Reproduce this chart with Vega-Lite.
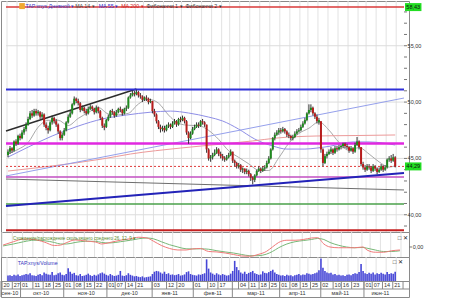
{
"$schema": "https://vega.github.io/schema/vega-lite/v6.json",
"padding": {"left": 0, "top": 0, "right": 0, "bottom": 0},
"background": "white",
"spacing": 0,
"bounds": "flush",
"config": {"font": "Liberation Sans", "view": {"stroke": "#8a8a8a", "strokeWidth": 1}, "axis": {"grid": false, "title": null}},
"datasets": {
"candles": [
{"i":0,"o":45.3,"h":45.8,"l":45.1,"c":45.6,"v":1.4},{"i":1,"o":45.6,"h":46.1,"l":45.4,"c":45.9,"v":1.5},{"i":2,"o":45.9,"h":46.0,"l":45.5,"c":45.7,"v":1.3},{"i":3,"o":45.7,"h":46.6,"l":45.6,"c":46.5,"v":1.6},{"i":4,"o":46.5,"h":46.7,"l":46.1,"c":46.3,"v":1.4},
{"i":5,"o":46.3,"h":47.1,"l":46.2,"c":47.0,"v":1.7},{"i":6,"o":47.0,"h":47.2,"l":46.6,"c":46.8,"v":1.3},{"i":7,"o":46.8,"h":47.5,"l":46.7,"c":47.3,"v":1.5},{"i":8,"o":47.3,"h":47.8,"l":47.1,"c":47.6,"v":1.6},{"i":9,"o":47.6,"h":48.2,"l":47.4,"c":48.0,"v":1.8},
{"i":10,"o":48.0,"h":48.7,"l":47.9,"c":48.5,"v":1.7},{"i":11,"o":48.5,"h":49.2,"l":48.4,"c":49.0,"v":2.0},{"i":12,"o":49.0,"h":49.3,"l":48.6,"c":48.8,"v":1.5},{"i":13,"o":48.8,"h":49.4,"l":48.7,"c":49.2,"v":1.4},{"i":14,"o":49.2,"h":49.4,"l":48.8,"c":49.0,"v":1.3},
{"i":15,"o":49.0,"h":49.3,"l":48.8,"c":49.15,"v":1.6},{"i":16,"o":49.1,"h":49.2,"l":48.5,"c":48.7,"v":1.8},{"i":17,"o":48.7,"h":49.1,"l":48.5,"c":48.9,"v":1.5},{"i":18,"o":48.9,"h":49.0,"l":47.8,"c":48.0,"v":2.2},{"i":19,"o":48.0,"h":48.2,"l":47.5,"c":47.7,"v":1.9},
{"i":20,"o":47.7,"h":47.9,"l":47.2,"c":47.5,"v":1.7},{"i":21,"o":47.5,"h":48.3,"l":47.4,"c":48.2,"v":1.6},{"i":22,"o":48.2,"h":48.8,"l":48.0,"c":48.6,"v":2.3},{"i":23,"o":48.6,"h":48.7,"l":48.1,"c":48.3,"v":1.5},{"i":24,"o":48.3,"h":48.5,"l":47.8,"c":48.0,"v":1.6},
{"i":25,"o":48.0,"h":48.1,"l":47.2,"c":47.4,"v":2.0},{"i":26,"o":47.4,"h":47.5,"l":46.6,"c":46.8,"v":2.2},{"i":27,"o":46.8,"h":47.3,"l":46.6,"c":47.1,"v":1.6},{"i":28,"o":47.1,"h":47.7,"l":47.0,"c":47.5,"v":1.5},{"i":29,"o":47.5,"h":48.3,"l":47.4,"c":48.2,"v":1.8},
{"i":30,"o":48.2,"h":48.9,"l":48.1,"c":48.7,"v":3.3},{"i":31,"o":48.7,"h":49.3,"l":48.6,"c":49.0,"v":2.4},{"i":32,"o":49.0,"h":49.9,"l":48.9,"c":49.8,"v":1.9},{"i":33,"o":49.8,"h":50.5,"l":49.7,"c":50.3,"v":2.1},{"i":34,"o":50.3,"h":50.4,"l":49.9,"c":50.1,"v":1.5},
{"i":35,"o":50.1,"h":50.3,"l":49.7,"c":49.9,"v":1.4},{"i":36,"o":49.9,"h":50.0,"l":49.1,"c":49.3,"v":1.8},{"i":37,"o":49.3,"h":49.7,"l":49.2,"c":49.5,"v":1.3},{"i":38,"o":49.5,"h":49.6,"l":49.0,"c":49.2,"v":1.4},{"i":39,"o":49.2,"h":49.4,"l":48.8,"c":49.0,"v":1.6},
{"i":40,"o":49.0,"h":49.6,"l":48.9,"c":49.4,"v":1.9},{"i":41,"o":49.4,"h":49.8,"l":49.3,"c":49.6,"v":1.5},{"i":42,"o":49.6,"h":49.7,"l":49.2,"c":49.4,"v":1.3},{"i":43,"o":49.4,"h":49.5,"l":48.9,"c":49.1,"v":1.6},{"i":44,"o":49.1,"h":49.7,"l":49.0,"c":49.5,"v":1.4},
{"i":45,"o":49.5,"h":49.6,"l":49.0,"c":49.2,"v":1.7},{"i":46,"o":49.2,"h":49.3,"l":48.4,"c":48.6,"v":2.0},{"i":47,"o":48.6,"h":48.7,"l":47.7,"c":47.9,"v":2.2},{"i":48,"o":47.9,"h":48.1,"l":47.5,"c":47.75,"v":1.9},{"i":49,"o":47.8,"h":48.5,"l":47.7,"c":48.4,"v":1.6},
{"i":50,"o":48.4,"h":48.9,"l":48.3,"c":48.7,"v":1.4},{"i":51,"o":48.7,"h":49.3,"l":48.6,"c":49.2,"v":1.8},{"i":52,"o":49.2,"h":49.4,"l":48.9,"c":49.1,"v":1.5},{"i":53,"o":49.1,"h":49.2,"l":48.6,"c":48.8,"v":1.3},{"i":54,"o":48.8,"h":49.3,"l":48.7,"c":49.1,"v":1.4},
{"i":55,"o":49.1,"h":49.5,"l":49.0,"c":49.4,"v":1.6},{"i":56,"o":49.4,"h":49.6,"l":49.1,"c":49.3,"v":2.6},{"i":57,"o":49.3,"h":49.4,"l":48.8,"c":49.0,"v":1.4},{"i":58,"o":49.0,"h":49.5,"l":48.9,"c":49.4,"v":1.3},{"i":59,"o":49.4,"h":49.7,"l":49.2,"c":49.5,"v":1.5},
{"i":60,"o":49.5,"h":50.5,"l":49.4,"c":50.4,"v":2.0},{"i":61,"o":50.4,"h":50.8,"l":50.3,"c":50.6,"v":1.6},{"i":62,"o":50.6,"h":51.0,"l":50.5,"c":50.8,"v":1.4},{"i":63,"o":50.8,"h":51.0,"l":50.5,"c":50.7,"v":1.2},{"i":64,"o":50.7,"h":51.1,"l":50.6,"c":50.9,"v":1.3},
{"i":65,"o":50.9,"h":51.0,"l":50.4,"c":50.6,"v":1.1},{"i":66,"o":50.6,"h":50.8,"l":50.3,"c":50.5,"v":1.0},{"i":67,"o":50.5,"h":50.6,"l":50.0,"c":50.2,"v":1.2},{"i":68,"o":50.2,"h":50.5,"l":50.1,"c":50.4,"v":0.9},{"i":69,"o":50.4,"h":50.6,"l":50.1,"c":50.3,"v":1.0},
{"i":70,"o":50.3,"h":50.4,"l":49.8,"c":50.0,"v":1.1},{"i":71,"o":50.0,"h":50.3,"l":49.9,"c":50.1,"v":1.2},{"i":72,"o":50.1,"h":50.1,"l":49.0,"c":49.2,"v":1.8},{"i":73,"o":49.2,"h":49.4,"l":48.7,"c":48.9,"v":2.4},{"i":74,"o":48.9,"h":49.0,"l":48.1,"c":48.3,"v":2.6},
{"i":75,"o":48.3,"h":48.4,"l":47.6,"c":47.8,"v":2.5},{"i":76,"o":47.8,"h":48.0,"l":47.3,"c":47.6,"v":2.2},{"i":77,"o":47.6,"h":47.9,"l":47.4,"c":47.7,"v":1.9},{"i":78,"o":47.7,"h":47.9,"l":47.3,"c":47.5,"v":2.4},{"i":79,"o":47.5,"h":48.0,"l":47.4,"c":47.9,"v":1.8},
{"i":80,"o":47.9,"h":48.2,"l":47.7,"c":48.0,"v":2.0},{"i":81,"o":48.0,"h":48.1,"l":47.6,"c":47.8,"v":1.6},{"i":82,"o":47.8,"h":48.3,"l":47.7,"c":48.1,"v":1.7},{"i":83,"o":48.1,"h":48.5,"l":48.0,"c":48.3,"v":1.5},{"i":84,"o":48.3,"h":48.4,"l":47.8,"c":48.0,"v":1.6},
{"i":85,"o":48.0,"h":48.6,"l":47.9,"c":48.5,"v":1.8},{"i":86,"o":48.5,"h":48.7,"l":48.2,"c":48.4,"v":1.4},{"i":87,"o":48.4,"h":48.8,"l":48.3,"c":48.6,"v":1.5},{"i":88,"o":48.6,"h":48.7,"l":48.1,"c":48.3,"v":1.7},{"i":89,"o":48.3,"h":48.4,"l":47.1,"c":47.3,"v":2.3},
{"i":90,"o":47.3,"h":47.4,"l":46.3,"c":46.8,"v":2.5},{"i":91,"o":46.8,"h":47.4,"l":46.7,"c":47.2,"v":1.8},{"i":92,"o":47.2,"h":47.8,"l":47.1,"c":47.6,"v":1.6},{"i":93,"o":47.6,"h":48.0,"l":47.5,"c":47.8,"v":1.5},{"i":94,"o":47.8,"h":48.2,"l":47.7,"c":48.0,"v":1.4},
{"i":95,"o":48.0,"h":48.2,"l":47.7,"c":47.9,"v":1.7},{"i":96,"o":47.9,"h":48.4,"l":47.8,"c":48.3,"v":1.6},{"i":97,"o":48.3,"h":48.5,"l":48.0,"c":48.2,"v":1.8},{"i":98,"o":48.2,"h":48.3,"l":47.8,"c":48.0,"v":2.0},{"i":99,"o":48.0,"h":48.0,"l":45.5,"c":45.8,"v":5.6},
{"i":100,"o":45.8,"h":45.9,"l":44.8,"c":45.0,"v":3.2},{"i":101,"o":45.0,"h":45.3,"l":44.7,"c":45.1,"v":2.2},{"i":102,"o":45.1,"h":45.5,"l":44.9,"c":45.3,"v":1.9},{"i":103,"o":45.3,"h":45.8,"l":45.2,"c":45.5,"v":1.6},{"i":104,"o":45.5,"h":46.0,"l":45.4,"c":45.8,"v":2.0},
{"i":105,"o":45.8,"h":45.9,"l":45.2,"c":45.4,"v":1.7},{"i":106,"o":45.4,"h":45.6,"l":45.0,"c":45.2,"v":1.5},{"i":107,"o":45.2,"h":45.4,"l":44.8,"c":45.0,"v":1.8},{"i":108,"o":45.0,"h":45.2,"l":44.7,"c":44.9,"v":1.6},{"i":109,"o":44.9,"h":45.3,"l":44.8,"c":45.1,"v":1.4},
{"i":110,"o":45.1,"h":45.5,"l":45.0,"c":45.3,"v":1.5},{"i":111,"o":45.3,"h":45.8,"l":45.2,"c":45.6,"v":1.9},{"i":112,"o":45.6,"h":45.6,"l":44.6,"c":44.8,"v":2.6},{"i":113,"o":44.8,"h":44.9,"l":44.3,"c":44.6,"v":5.2},{"i":114,"o":44.6,"h":44.7,"l":44.1,"c":44.3,"v":3.6},
{"i":115,"o":44.3,"h":44.6,"l":44.1,"c":44.4,"v":2.8},{"i":116,"o":44.4,"h":44.5,"l":43.8,"c":44.0,"v":2.2},{"i":117,"o":44.0,"h":44.2,"l":43.7,"c":44.1,"v":1.9},{"i":118,"o":44.1,"h":44.1,"l":43.6,"c":43.8,"v":2.4},{"i":119,"o":43.8,"h":44.1,"l":43.6,"c":43.9,"v":1.8},
{"i":120,"o":43.9,"h":44.0,"l":43.4,"c":43.6,"v":2.1},{"i":121,"o":43.6,"h":43.7,"l":43.0,"c":43.3,"v":2.3},{"i":122,"o":43.3,"h":43.4,"l":42.7,"c":43.1,"v":2.6},{"i":123,"o":43.1,"h":43.6,"l":42.9,"c":43.5,"v":2.0},{"i":124,"o":43.5,"h":44.0,"l":43.4,"c":43.9,"v":1.8},
{"i":125,"o":43.9,"h":44.3,"l":43.8,"c":44.1,"v":1.6},{"i":126,"o":44.1,"h":44.2,"l":43.7,"c":43.9,"v":1.7},{"i":127,"o":43.9,"h":44.3,"l":43.8,"c":44.1,"v":2.5},{"i":128,"o":44.1,"h":44.4,"l":43.9,"c":44.2,"v":2.1},{"i":129,"o":44.2,"h":44.8,"l":44.1,"c":44.6,"v":2.0},
{"i":130,"o":44.6,"h":45.2,"l":44.5,"c":45.0,"v":2.3},{"i":131,"o":45.0,"h":45.9,"l":44.9,"c":45.8,"v":2.6},{"i":132,"o":45.8,"h":46.9,"l":45.7,"c":46.8,"v":2.9},{"i":133,"o":46.8,"h":47.3,"l":46.6,"c":47.1,"v":2.2},{"i":134,"o":47.1,"h":47.5,"l":47.0,"c":47.3,"v":1.8},
{"i":135,"o":47.3,"h":47.7,"l":47.1,"c":47.5,"v":1.6},{"i":136,"o":47.5,"h":47.7,"l":47.2,"c":47.4,"v":1.4},{"i":137,"o":47.4,"h":47.8,"l":47.3,"c":47.6,"v":1.5},{"i":138,"o":47.6,"h":47.7,"l":47.2,"c":47.4,"v":1.3},{"i":139,"o":47.4,"h":47.5,"l":46.9,"c":47.1,"v":1.6},
{"i":140,"o":47.1,"h":47.3,"l":46.8,"c":47.0,"v":1.4},{"i":141,"o":47.0,"h":47.1,"l":46.6,"c":46.8,"v":1.5},{"i":142,"o":46.8,"h":47.1,"l":46.6,"c":46.9,"v":1.2},{"i":143,"o":46.9,"h":47.4,"l":46.8,"c":47.2,"v":1.5},{"i":144,"o":47.2,"h":47.6,"l":47.1,"c":47.4,"v":1.6},
{"i":145,"o":47.4,"h":47.7,"l":47.3,"c":47.5,"v":1.8},{"i":146,"o":47.5,"h":48.0,"l":47.4,"c":47.8,"v":1.5},{"i":147,"o":47.8,"h":48.3,"l":47.7,"c":48.1,"v":1.7},{"i":148,"o":48.1,"h":48.6,"l":48.0,"c":48.4,"v":1.6},{"i":149,"o":48.4,"h":49.1,"l":48.3,"c":49.0,"v":2.0},
{"i":150,"o":49.0,"h":49.8,"l":48.9,"c":49.3,"v":1.9},{"i":151,"o":49.3,"h":49.8,"l":49.1,"c":49.5,"v":1.7},{"i":152,"o":49.5,"h":49.6,"l":48.8,"c":49.0,"v":1.8},{"i":153,"o":49.0,"h":49.1,"l":48.5,"c":48.7,"v":2.0},{"i":154,"o":48.7,"h":48.9,"l":48.1,"c":48.3,"v":2.2},
{"i":155,"o":48.2,"h":48.6,"l":48.0,"c":48.4,"v":2.8},{"i":156,"o":48.3,"h":48.3,"l":45.5,"c":45.8,"v":5.8},{"i":157,"o":45.8,"h":45.9,"l":44.3,"c":44.6,"v":3.4},{"i":158,"o":44.6,"h":45.4,"l":44.5,"c":45.2,"v":2.6},{"i":159,"o":45.2,"h":45.6,"l":45.0,"c":45.4,"v":2.2},
{"i":160,"o":45.4,"h":45.8,"l":45.3,"c":45.6,"v":2.0},{"i":161,"o":45.6,"h":46.0,"l":45.4,"c":45.8,"v":2.1},{"i":162,"o":45.8,"h":45.9,"l":45.3,"c":45.5,"v":1.7},{"i":163,"o":45.5,"h":46.1,"l":45.4,"c":45.9,"v":1.8},{"i":164,"o":45.9,"h":46.1,"l":45.6,"c":45.8,"v":1.5},
{"i":165,"o":45.8,"h":46.2,"l":45.7,"c":46.0,"v":1.6},{"i":166,"o":46.0,"h":46.2,"l":45.8,"c":46.1,"v":1.4},{"i":167,"o":46.1,"h":46.4,"l":45.9,"c":46.3,"v":1.5},{"i":168,"o":46.3,"h":46.4,"l":45.9,"c":46.1,"v":1.3},{"i":169,"o":46.1,"h":46.3,"l":45.8,"c":46.0,"v":1.6},
{"i":170,"o":46.0,"h":46.1,"l":45.5,"c":45.7,"v":1.7},{"i":171,"o":45.7,"h":46.1,"l":45.6,"c":45.9,"v":1.5},{"i":172,"o":45.9,"h":46.0,"l":45.4,"c":45.6,"v":1.8},{"i":173,"o":45.6,"h":46.4,"l":45.5,"c":46.2,"v":2.0},{"i":174,"o":46.2,"h":46.9,"l":46.1,"c":46.5,"v":1.9},
{"i":175,"o":46.5,"h":46.6,"l":45.8,"c":46.0,"v":2.3},{"i":176,"o":46.0,"h":46.0,"l":44.3,"c":44.5,"v":4.4},{"i":177,"o":44.5,"h":44.7,"l":44.0,"c":44.2,"v":2.6},{"i":178,"o":44.2,"h":44.4,"l":43.8,"c":44.0,"v":2.0},{"i":179,"o":44.0,"h":44.5,"l":43.9,"c":44.3,"v":1.8},
{"i":180,"o":44.3,"h":44.5,"l":44.0,"c":44.2,"v":2.1},{"i":181,"o":44.2,"h":44.3,"l":43.7,"c":43.9,"v":1.9},{"i":182,"o":43.9,"h":44.5,"l":43.8,"c":44.3,"v":2.2},{"i":183,"o":44.3,"h":44.4,"l":43.9,"c":44.1,"v":1.7},{"i":184,"o":44.1,"h":44.2,"l":43.6,"c":43.8,"v":2.0},
{"i":185,"o":43.8,"h":44.2,"l":43.7,"c":44.0,"v":1.8},{"i":186,"o":44.0,"h":44.5,"l":43.9,"c":44.3,"v":2.1},{"i":187,"o":44.3,"h":44.4,"l":43.8,"c":44.0,"v":1.9},{"i":188,"o":44.0,"h":44.4,"l":43.9,"c":44.2,"v":1.7},{"i":189,"o":44.2,"h":45.0,"l":44.1,"c":44.9,"v":2.3},
{"i":190,"o":44.9,"h":45.2,"l":44.7,"c":45.0,"v":1.8},{"i":191,"o":45.0,"h":45.3,"l":44.6,"c":44.8,"v":2.0},{"i":192,"o":44.8,"h":45.4,"l":44.7,"c":45.1,"v":1.9},{"i":193,"o":45.1,"h":45.2,"l":44.2,"c":44.29,"v":2.4}
],
"lines": [
{"s":"grid","g":"g40","i":-1,"p":40},{"s":"grid","g":"g40","i":197.4,"p":40},{"s":"grid","g":"g45","i":-1,"p":45},{"s":"grid","g":"g45","i":197.4,"p":45},{"s":"grid","g":"g50","i":-1,"p":50},{"s":"grid","g":"g50","i":197.4,"p":50},{"s":"grid","g":"g55","i":-1,"p":55},{"s":"grid","g":"g55","i":197.4,"p":55},
{"s":"ma14","g":"ma14","i":0,"p":45.4},{"s":"ma14","g":"ma14","i":5,"p":45.8},{"s":"ma14","g":"ma14","i":10,"p":46.4},{"s":"ma14","g":"ma14","i":15,"p":47.77},{"s":"ma14","g":"ma14","i":20,"p":48.38},{"s":"ma14","g":"ma14","i":25,"p":48.39},{"s":"ma14","g":"ma14","i":30,"p":47.92},{"s":"ma14","g":"ma14","i":35,"p":48.55},{"s":"ma14","g":"ma14","i":40,"p":49.07},{"s":"ma14","g":"ma14","i":45,"p":49.52},{"s":"ma14","g":"ma14","i":50,"p":48.95},{"s":"ma14","g":"ma14","i":55,"p":48.87},{"s":"ma14","g":"ma14","i":60,"p":49.0},{"s":"ma14","g":"ma14","i":65,"p":49.83},{"s":"ma14","g":"ma14","i":70,"p":50.24},{"s":"ma14","g":"ma14","i":75,"p":49.91},{"s":"ma14","g":"ma14","i":80,"p":48.85},{"s":"ma14","g":"ma14","i":85,"p":48.11},{"s":"ma14","g":"ma14","i":90,"p":47.94},{"s":"ma14","g":"ma14","i":95,"p":47.91},{"s":"ma14","g":"ma14","i":100,"p":47.49},{"s":"ma14","g":"ma14","i":105,"p":46.69},{"s":"ma14","g":"ma14","i":110,"p":45.68},{"s":"ma14","g":"ma14","i":115,"p":45.09},{"s":"ma14","g":"ma14","i":120,"p":44.52},{"s":"ma14","g":"ma14","i":125,"p":43.95},{"s":"ma14","g":"ma14","i":130,"p":43.93},{"s":"ma14","g":"ma14","i":135,"p":45.06},{"s":"ma14","g":"ma14","i":140,"p":46.35},{"s":"ma14","g":"ma14","i":145,"p":47.21},{"s":"ma14","g":"ma14","i":150,"p":47.68},{"s":"ma14","g":"ma14","i":155,"p":48.24},{"s":"ma14","g":"ma14","i":160,"p":47.51},{"s":"ma14","g":"ma14","i":165,"p":46.42},{"s":"ma14","g":"ma14","i":170,"p":45.71},{"s":"ma14","g":"ma14","i":175,"p":45.96},{"s":"ma14","g":"ma14","i":180,"p":45.39},{"s":"ma14","g":"ma14","i":185,"p":44.69},{"s":"ma14","g":"ma14","i":190,"p":44.23},{"s":"ma14","g":"ma14","i":193,"p":44.35},
{"s":"ma55","g":"ma55","i":0,"p":45.12},{"s":"ma55","g":"ma55","i":10,"p":46.0},{"s":"ma55","g":"ma55","i":22,"p":46.99},{"s":"ma55","g":"ma55","i":35,"p":47.87},{"s":"ma55","g":"ma55","i":47,"p":48.5},{"s":"ma55","g":"ma55","i":59,"p":48.85},{"s":"ma55","g":"ma55","i":71,"p":49.1},{"s":"ma55","g":"ma55","i":81,"p":49.2},{"s":"ma55","g":"ma55","i":90,"p":49.03},{"s":"ma55","g":"ma55","i":100,"p":48.67},{"s":"ma55","g":"ma55","i":107,"p":48.32},{"s":"ma55","g":"ma55","i":115,"p":47.6},{"s":"ma55","g":"ma55","i":123,"p":46.72},{"s":"ma55","g":"ma55","i":132,"p":46.1},{"s":"ma55","g":"ma55","i":139,"p":45.83},{"s":"ma55","g":"ma55","i":148,"p":45.83},{"s":"ma55","g":"ma55","i":154,"p":45.92},{"s":"ma55","g":"ma55","i":161,"p":46.1},{"s":"ma55","g":"ma55","i":172,"p":46.46},{"s":"ma55","g":"ma55","i":180,"p":46.46},{"s":"ma55","g":"ma55","i":193,"p":46.19},
{"s":"ma200","g":"ma200","i":0,"p":43.88},{"s":"ma200","g":"ma200","i":22,"p":44.33},{"s":"ma200","g":"ma200","i":47,"p":44.95},{"s":"ma200","g":"ma200","i":61,"p":45.39},{"s":"ma200","g":"ma200","i":86,"p":45.92},{"s":"ma200","g":"ma200","i":107,"p":46.28},{"s":"ma200","g":"ma200","i":122,"p":46.55},{"s":"ma200","g":"ma200","i":134,"p":46.81},{"s":"ma200","g":"ma200","i":154,"p":46.99},{"s":"ma200","g":"ma200","i":173,"p":47.03},{"s":"ma200","g":"ma200","i":193,"p":47.08},
{"s":"h_top","g":"h_top","i":-1,"p":58.43},{"s":"h_top","g":"h_top","i":197.4,"p":58.43},
{"s":"h_blue","g":"h_blue","i":-1,"p":51.11},{"s":"h_blue","g":"h_blue","i":197.4,"p":51.11},
{"s":"h_mag","g":"h_mag","i":-1,"p":46.32},{"s":"h_mag","g":"h_mag","i":197.4,"p":46.32},
{"s":"h_cur","g":"h_cur","i":-1,"p":44.29},{"s":"h_cur","g":"h_cur","i":197.4,"p":44.29},
{"s":"h_mag2","g":"h_mag2","i":-1,"p":43.35},{"s":"h_mag2","g":"h_mag2","i":197.4,"p":43.35},
{"s":"h_green","g":"h_green","i":-1,"p":40.95},{"s":"h_green","g":"h_green","i":197.4,"p":40.95},
{"s":"h_bot","g":"h_bot","i":-1,"p":38.62},{"s":"h_bot","g":"h_bot","i":197.4,"p":38.62},
{"s":"t_black","g":"t_black","i":-1,"p":47.43},{"s":"t_black","g":"t_black","i":64,"p":51.16},
{"s":"t_lblue","g":"t_lblue","i":-1,"p":43.44},{"s":"t_lblue","g":"t_lblue","i":197.4,"p":50.36},
{"s":"t_blue","g":"t_blue","i":-1,"p":40.78},{"s":"t_blue","g":"t_blue","i":197.4,"p":43.7},
{"s":"t_grey","g":"t_grey","i":-1,"p":43.17},{"s":"t_grey","g":"t_grey","i":197.4,"p":42.2}
],
"ptick": [{"i":197.4,"i2":198.9,"p":39},{"i":197.4,"i2":198.9,"p":40},{"i":197.4,"i2":198.9,"p":41},{"i":197.4,"i2":198.9,"p":42},{"i":197.4,"i2":198.9,"p":43},{"i":197.4,"i2":198.9,"p":44},{"i":197.4,"i2":198.9,"p":45},{"i":197.4,"i2":198.9,"p":46},{"i":197.4,"i2":198.9,"p":47},{"i":197.4,"i2":198.9,"p":48},{"i":197.4,"i2":198.9,"p":49},{"i":197.4,"i2":198.9,"p":50},{"i":197.4,"i2":198.9,"p":51},{"i":197.4,"i2":198.9,"p":52},{"i":197.4,"i2":198.9,"p":53},{"i":197.4,"i2":198.9,"p":54},{"i":197.4,"i2":198.9,"p":55},{"i":197.4,"i2":198.9,"p":56},{"i":197.4,"i2":198.9,"p":57},{"i":197.4,"i2":198.9,"p":58}],
"plabel": [{"i":199.2,"p":40,"t":"40,00"},{"i":199.2,"p":45,"t":"45,00"},{"i":199.2,"p":50,"t":"50,00"},{"i":199.2,"p":55,"t":"55,00"}],
"tags": [{"i":197.9,"i2":206.1,"m":202.0,"p":58.43,"t":"58,43"},{"i":197.9,"i2":206.1,"m":202.0,"p":44.29,"t":"44,29"}],
"legend": [{"i":8.7,"t":"TAP.xnys Дневной ▾","k":"main"},{"i":33.5,"t":"MA 14 ▾","k":"ma14"},{"i":45.2,"t":"MA 55 ▾","k":"ma55"},{"i":56.4,"t":"MA 200 ▾","k":"ma200"},{"i":69,"t":"Фибоначчи 1 ▾","k":"fib"},{"i":88.5,"t":"Фибоначчи 2 ▾","k":"fib"}],
"icon": [{"i":5.6,"i2":8.4,"p":58.52}],
"macd": [
{"i":0,"m":0.13,"s":0.07},{"i":5,"m":0.35,"s":0.2},{"i":10,"m":0.53,"s":0.35},{"i":15,"m":0.5,"s":0.45},{"i":20,"m":0.33,"s":0.42},{"i":25,"m":0.1,"s":0.3},{"i":28,"m":0.13,"s":0.2},{"i":31,"m":0.3,"s":0.2},{"i":35,"m":0.47,"s":0.3},{"i":40,"m":0.4,"s":0.38},{"i":45,"m":0.33,"s":0.38},{"i":48,"m":0.2,"s":0.3},{"i":52,"m":0.3,"s":0.27},{"i":57,"m":0.45,"s":0.35},{"i":62,"m":0.55,"s":0.45},{"i":66,"m":0.65,"s":0.55},{"i":70,"m":0.6,"s":0.6},{"i":73,"m":0.4,"s":0.55},{"i":77,"m":0.1,"s":0.35},{"i":81,"m":-0.1,"s":0.15},{"i":85,"m":-0.2,"s":0.0},{"i":89,"m":-0.2,"s":-0.12},{"i":92,"m":-0.13,"s":-0.13},{"i":96,"m":-0.1,"s":-0.12},{"i":100,"m":-0.3,"s":-0.15},{"i":104,"m":-0.33,"s":-0.25},{"i":108,"m":-0.4,"s":-0.33},{"i":112,"m":-0.5,"s":-0.4},{"i":116,"m":-0.6,"s":-0.5},{"i":120,"m":-0.62,"s":-0.58},{"i":124,"m":-0.5,"s":-0.58},{"i":128,"m":-0.3,"s":-0.48},{"i":131,"m":0.0,"s":-0.3},{"i":134,"m":0.3,"s":-0.05},{"i":138,"m":0.45,"s":0.2},{"i":142,"m":0.45,"s":0.35},{"i":146,"m":0.5,"s":0.43},{"i":150,"m":0.6,"s":0.5},{"i":153,"m":0.62,"s":0.57},{"i":156,"m":0.2,"s":0.5},{"i":159,"m":0.0,"s":0.3},{"i":163,"m":-0.05,"s":0.12},{"i":167,"m":-0.05,"s":0.0},{"i":171,"m":-0.05,"s":-0.05},{"i":175,"m":0.0,"s":-0.03},{"i":177,"m":-0.2,"s":-0.08},{"i":181,"m":-0.35,"s":-0.2},{"i":185,"m":-0.35,"s":-0.3},{"i":189,"m":-0.25,"s":-0.3},{"i":193,"m":-0.2,"s":-0.25}
],
"weeks": [{"i":-0.5},{"i":4.5},{"i":9.5},{"i":14.5},{"i":19.5},{"i":24.5},{"i":29.5},{"i":34.5},{"i":39.5},{"i":44.5},{"i":48.5},{"i":53.5},{"i":58.5},{"i":63.5},{"i":67.5},{"i":72.5},{"i":77.5},{"i":82.5},{"i":86.5},{"i":91.5},{"i":96.5},{"i":101.5},{"i":106.5},{"i":110.5},{"i":115.5},{"i":120.5},{"i":125.5},{"i":130.5},{"i":135.5},{"i":140.5},{"i":145.5},{"i":149.5},{"i":154.5},{"i":159.5},{"i":164.5},{"i":169.5},{"i":174.5},{"i":178.5},{"i":183.5},{"i":188.5},{"i":193.5}],
"macdtext": [{"i":4.8,"v":0.53,"t":"Схождение/расхождение скользящего среднего 26, 12, 9 ▾"}],
"macdaxis": [{"i":199.2,"v":0,"t":"0,00"}],
"macdtick": [{"i":197.4,"i2":198.9,"v":0}],
"closer1": [{"i":194.4,"v":0.6,"t":"□ ✕"}],
"voltext": [{"i":4.8,"v":4.65,"t":"TAP.xnys/Volume"}],
"closer2": [{"i":194.4,"v":4.9,"t":"□ ✕"}],
"rowline": [{"i":-1,"i2":197.4,"r":1}],
"ticks": [{"i":-0.5,"t":"20"},{"i":4.5,"t":"27"},{"i":8.5,"t":"01"},{"i":14.5,"t":"11"},{"i":19.5,"t":"18"},{"i":24.5,"t":"25"},{"i":29.5,"t":"01"},{"i":34.5,"t":"08"},{"i":39.5,"t":"15"},{"i":44.5,"t":"22"},{"i":50.5,"t":"01"},{"i":54.5,"t":"07"},{"i":59.5,"t":"14"},{"i":64.5,"t":"21"},{"i":72.5,"t":"03"},{"i":79.5,"t":"12"},{"i":84.5,"t":"20"},{"i":92.5,"t":"01"},{"i":99.5,"t":"10"},{"i":104.5,"t":"17"},{"i":114.5,"t":"04"},{"i":119.5,"t":"11"},{"i":124.5,"t":"18"},{"i":129.5,"t":"25"},{"i":134.5,"t":"01"},{"i":139.5,"t":"08"},{"i":144.5,"t":"15"},{"i":149.5,"t":"25"},{"i":154.5,"t":"02"},{"i":160.5,"t":"10"},{"i":164.5,"t":"16"},{"i":169.5,"t":"23"},{"i":175.5,"t":"01"},{"i":179.5,"t":"07"},{"i":184.5,"t":"14"},{"i":189.5,"t":"21"},{"i":194.5,"t":""}],
"months": [{"i":-1,"m":3.3,"t":"сен-10"},{"i":8.5,"m":18.5,"t":"окт-10"},{"i":29.5,"m":40.5,"t":"ноя-10"},{"i":50.5,"m":61.5,"t":"дек-10"},{"i":72.5,"m":81,"t":"янв-11"},{"i":92.5,"m":102,"t":"фев-11"},{"i":111.5,"m":123,"t":"мар-11"},{"i":134.5,"m":143,"t":"апр-11"},{"i":154.5,"m":164,"t":"май-11"},{"i":175.5,"m":183.5,"t":"июн-11"}]
},
"vconcat": [
{
"width": 408, "height": 231,
"encoding": {"x": {"field": "i", "type": "quantitative", "scale": {"domain": [-1, 197.4], "nice": false, "zero": false}, "axis": null}},
"layer": [
{"data": {"name": "weeks"}, "mark": {"type": "rule", "color": "#e2e2e2", "strokeWidth": 1}, "encoding": {}},
{"data": {"name": "lines"}, "transform": [{"filter": {"field": "s", "oneOf": ["grid","ma14","ma55","ma200","t_lblue","t_grey"]}}],
 "mark": {"type": "line", "strokeWidth": 1, "interpolate": "monotone"},
 "encoding": {"y": {"field": "p", "type": "quantitative", "scale": {"domain": [38.47, 58.97], "nice": false, "zero": false}, "axis": null},
  "detail": {"field": "g", "type": "nominal"},
  "stroke": {"field": "s", "type": "nominal", "legend": null, "scale": {"domain": ["grid","ma14","ma55","ma200","t_lblue","t_grey","h_cur","h_mag2","h_green","h_top","t_black","h_blue","t_blue","h_bot","h_mag"], "range": ["#dcdcdc","#a8a8a8","#8e8ee6","#ec9a9a","#95a0ec","#6e6e6e","#e03c3c","#c24fc2","#4aa04a","#d83a3a","#2c2c2c","#2f2fd8","#2323b8","#c42020","#e028e0"]}}}},
{"data": {"name": "lines"}, "transform": [{"filter": {"field": "s", "oneOf": ["h_cur"]}}],
 "mark": {"type": "line", "strokeWidth": 1, "strokeDash": [2, 2]},
 "encoding": {"y": {"field": "p", "type": "quantitative", "axis": null}, "stroke": {"field": "s", "type": "nominal", "legend": null}}},
{"data": {"name": "lines"}, "transform": [{"filter": {"field": "s", "oneOf": ["h_mag2","h_green","h_top","t_black"]}}],
 "mark": {"type": "line", "strokeWidth": 1.5},
 "encoding": {"y": {"field": "p", "type": "quantitative", "axis": null}, "stroke": {"field": "s", "type": "nominal", "legend": null}}},
{"data": {"name": "lines"}, "transform": [{"filter": {"field": "s", "oneOf": ["h_blue","t_blue","h_bot"]}}],
 "mark": {"type": "line", "strokeWidth": 2},
 "encoding": {"y": {"field": "p", "type": "quantitative", "axis": null}, "stroke": {"field": "s", "type": "nominal", "legend": null}}},
{"data": {"name": "lines"}, "transform": [{"filter": {"field": "s", "oneOf": ["h_mag"]}}],
 "mark": {"type": "line", "strokeWidth": 2.5},
 "encoding": {"y": {"field": "p", "type": "quantitative", "axis": null}, "stroke": {"field": "s", "type": "nominal", "legend": null}}},
{"data": {"name": "candles"}, "mark": {"type": "rule", "color": "#333333", "strokeWidth": 1},
 "encoding": {"y": {"field": "l", "type": "quantitative", "axis": null}, "y2": {"field": "h"}}},
{"data": {"name": "candles"}, "mark": {"type": "bar", "width": 2},
 "encoding": {"y": {"field": "o", "type": "quantitative", "axis": null}, "y2": {"field": "c"},
  "color": {"condition": {"test": "datum.c >= datum.o", "value": "#1f8a1f"}, "value": "#b81c1c"}}},
{"data": {"name": "ptick"}, "mark": {"type": "rule", "color": "#777777", "strokeWidth": 1},
 "encoding": {"x2": {"field": "i2"}, "y": {"field": "p", "type": "quantitative", "axis": null}}},
{"data": {"name": "plabel"}, "mark": {"type": "text", "align": "left", "baseline": "middle", "fontSize": 5.5, "color": "#333333"},
 "encoding": {"y": {"field": "p", "type": "quantitative", "axis": null}, "text": {"field": "t"}}},
{"data": {"name": "icon"}, "mark": {"type": "rule", "color": "#f0a830", "strokeWidth": 6, "strokeCap": "butt"},
 "encoding": {"x2": {"field": "i2"}, "y": {"field": "p", "type": "quantitative", "axis": null}}},
{"data": {"name": "legend"}, "mark": {"type": "text", "align": "left", "baseline": "middle", "fontSize": 5.3},
 "encoding": {"y": {"datum": 58.5}, "text": {"field": "t"},
  "color": {"field": "k", "type": "nominal", "legend": null, "scale": {"domain": ["main","ma14","ma55","ma200","fib"], "range": ["#3a3ac8","#444444","#3030d0","#d02020","#333333"]}}}},
{"data": {"name": "tags"}, "mark": {"type": "rule", "color": "#22dd22", "strokeWidth": 8, "strokeCap": "butt"},
 "encoding": {"x2": {"field": "i2"}, "y": {"field": "p", "type": "quantitative", "axis": null}}},
{"data": {"name": "tags"}, "mark": {"type": "text", "align": "center", "baseline": "middle", "fontSize": 5.5, "color": "#111111"},
 "encoding": {"x": {"field": "m", "type": "quantitative"}, "y": {"field": "p", "type": "quantitative", "axis": null}, "text": {"field": "t"}}}
]
},
{
"width": 408, "height": 25,
"encoding": {"x": {"field": "i", "type": "quantitative", "scale": {"domain": [-1, 197.4], "nice": false, "zero": false}, "axis": null}},
"layer": [
{"data": {"name": "weeks"}, "mark": {"type": "rule", "color": "#e2e2e2", "strokeWidth": 1}, "encoding": {}},
{"data": {"name": "macd"}, "mark": {"type": "line", "color": "#78b878", "strokeWidth": 1, "interpolate": "monotone"},
 "encoding": {"y": {"field": "s", "type": "quantitative", "scale": {"domain": [-0.667, 1.0], "nice": false, "zero": false}, "axis": null}}},
{"data": {"name": "macd"}, "mark": {"type": "line", "color": "#f07a7a", "strokeWidth": 1, "interpolate": "monotone"},
 "encoding": {"y": {"field": "m", "type": "quantitative", "axis": null}}},
{"data": {"name": "macdtick"}, "mark": {"type": "rule", "color": "#777777", "strokeWidth": 1},
 "encoding": {"x2": {"field": "i2"}, "y": {"field": "v", "type": "quantitative", "axis": null}}},
{"data": {"name": "macdtext"}, "mark": {"type": "text", "align": "left", "baseline": "middle", "fontSize": 4.5, "color": "#5a8a2a"},
 "encoding": {"y": {"field": "v", "type": "quantitative", "axis": null}, "text": {"field": "t"}}},
{"data": {"name": "macdaxis"}, "mark": {"type": "text", "align": "left", "baseline": "middle", "fontSize": 5.5, "color": "#333333"},
 "encoding": {"y": {"field": "v", "type": "quantitative", "axis": null}, "text": {"field": "t"}}},
{"data": {"name": "closer1"}, "mark": {"type": "text", "align": "center", "baseline": "middle", "fontSize": 6, "color": "#222222"},
 "encoding": {"y": {"field": "v", "type": "quantitative", "axis": null}, "text": {"field": "t"}}}
]
},
{
"width": 408, "height": 24,
"encoding": {"x": {"field": "i", "type": "quantitative", "scale": {"domain": [-1, 197.4], "nice": false, "zero": false}, "axis": null}},
"layer": [
{"data": {"name": "weeks"}, "mark": {"type": "rule", "color": "#e2e2e2", "strokeWidth": 1}, "encoding": {}},
{"data": {"name": "candles"}, "mark": {"type": "bar", "width": 1.6, "color": "#4646d6"},
 "encoding": {"y": {"field": "v", "type": "quantitative", "scale": {"domain": [0, 6.2], "nice": false, "zero": true}, "axis": null}}},
{"data": {"name": "voltext"}, "mark": {"type": "text", "align": "left", "baseline": "middle", "fontSize": 5.2, "color": "#3535c0"},
 "encoding": {"y": {"field": "v", "type": "quantitative", "axis": null}, "text": {"field": "t"}}},
{"data": {"name": "closer2"}, "mark": {"type": "text", "align": "center", "baseline": "middle", "fontSize": 6, "color": "#222222"},
 "encoding": {"y": {"field": "v", "type": "quantitative", "axis": null}, "text": {"field": "t"}}}
]
},
{
"width": 408, "height": 16,
"encoding": {"x": {"field": "i", "type": "quantitative", "scale": {"domain": [-1, 197.4], "nice": false, "zero": false}, "axis": null}},
"layer": [
{"data": {"name": "ticks"}, "mark": {"type": "rule", "color": "#8a8a8a", "strokeWidth": 1},
 "encoding": {"y": {"datum": 1, "type": "quantitative", "scale": {"domain": [0, 2], "nice": false, "zero": false}, "axis": null}, "y2": {"datum": 2}}},
{"data": {"name": "months"}, "mark": {"type": "rule", "color": "#8a8a8a", "strokeWidth": 1},
 "encoding": {"y": {"datum": 0, "axis": null}, "y2": {"datum": 2}}},
{"data": {"name": "rowline"}, "mark": {"type": "rule", "color": "#8a8a8a", "strokeWidth": 1},
 "encoding": {"x2": {"field": "i2"}, "y": {"field": "r", "type": "quantitative", "axis": null}}},
{"data": {"name": "ticks"}, "mark": {"type": "text", "align": "left", "baseline": "middle", "dx": 1.5, "fontSize": 5.5, "color": "#333333"},
 "encoding": {"y": {"datum": 1.5, "axis": null}, "text": {"field": "t"}}},
{"data": {"name": "months"}, "mark": {"type": "text", "align": "center", "baseline": "middle", "fontSize": 5.5, "color": "#333333"},
 "encoding": {"x": {"field": "m", "type": "quantitative"}, "y": {"datum": 0.5, "axis": null}, "text": {"field": "t"}}}
]
}
]
}
